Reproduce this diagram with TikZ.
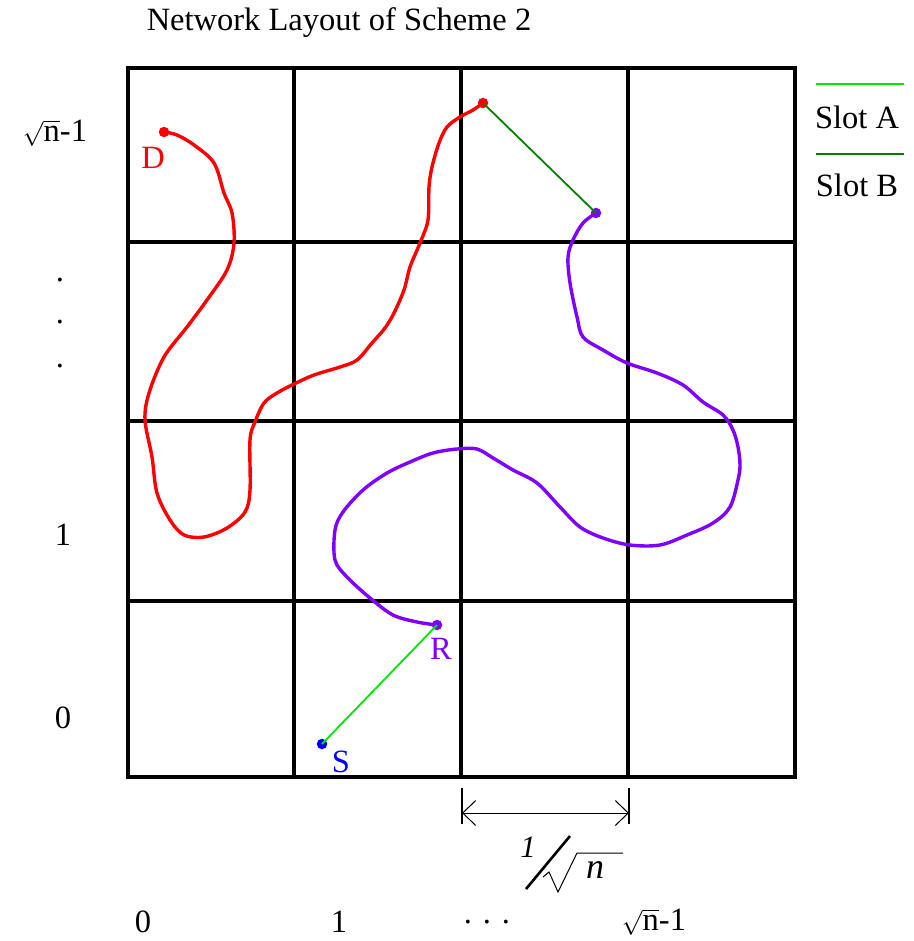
\documentclass[tikz,border=0pt]{standalone}
\usepackage{fontspec}
\setmainfont{Liberation Serif}
\usetikzlibrary{arrows.meta}
\definecolor{walkred}{RGB}{255,0,0}
\definecolor{walkviolet}{RGB}{128,0,255}
\definecolor{sblue}{RGB}{0,0,255}
\definecolor{slotAcol}{RGB}{0,230,0}
\definecolor{slotBcol}{RGB}{0,128,0}
\tikzset{
  gridline/.style={line width=4pt, black},
  lab/.style={font=\fontsize{32.5}{38}\selectfont, inner sep=0pt, anchor=center},
  dotn/.style={circle, inner sep=0pt, minimum size=10.5pt},
  walk/.style={line width=3.4pt, line join=round, line cap=round},
  slotA/.style={draw=slotAcol, line width=1.8pt},
  slotB/.style={draw=slotBcol, line width=1.8pt},
  dimbar/.style={line width=2pt, black},
  dimarrow/.style={line width=1pt, black, {Straight Barb[length=13pt,width=25pt]}-{Straight Barb[length=13pt,width=25pt]}},
}
\begin{document}
\begin{tikzpicture}[x=1pt, y=-1pt]
\useasboundingbox (0,0) rectangle (913,941);
\fill[white] (0,0) rectangle (913,941);
% title
\node[lab] (title) at (339,23) {Network Layout of Scheme 2};
% grid
\draw[gridline] (128,68) rectangle (795,777);
\draw[gridline] (294,68) -- (294,777);
\draw[gridline] (461,68) -- (461,777);
\draw[gridline] (628,68) -- (628,777);
\draw[gridline] (128,242) -- (795,242);
\draw[gridline] (128,421) -- (795,421);
\draw[gridline] (128,601) -- (795,601);
% red walk
\draw[walk, walkred] plot[smooth, tension=0.55] coordinates {
(164,132) (177,135) (194,145) (214,163) (224,193) (232,213) (234,243) (227,270)
(207,300) (187,327) (164,357) (149,393) (145,420) (152,457) (157,493) (170,520)
(184,535) (204,537) (227,528) (245,512) (250,490) (250,440) (255,422) (264,403)
(277,393) (294,384) (314,375) (340,367) (357,360) (372,343) (385,328) (394,313)
(404,290) (410,267) (420,243) (428,220) (429,187) (432,167) (439,143) (447,127)
(460,117) (473,110) (483,103)};
% violet walk
\draw[walk, walkviolet] plot[smooth, tension=0.55] coordinates {
(596,213) (583,223) (573,240) (568,257) (570,283) (577,317) (583,337) (603,350)
(627,363) (657,373) (683,385) (703,402) (723,415) (733,430) (738,447) (740,465)
(738,480) (730,507) (713,523) (687,535) (660,545) (630,545) (603,538) (580,527)
(560,507) (537,483) (513,470) (493,458) (477,449) (457,449) (433,453) (410,462)
(387,473) (363,490) (343,512) (335,530) (335,560) (347,577) (370,598) (393,615)
(417,622) (437,625)};
% dots
\node[dotn, fill=walkred] (D) at (164,132) {};
\node[dotn, fill=walkred] (T) at (483,103) {};
\node[dotn, fill=walkviolet] (V) at (596,213) {};
\node[dotn, fill=walkviolet] (R) at (437,625) {};
\node[dotn, fill=sblue] (S) at (322,744) {};
% slot links
\draw[slotB] (T.center) -- (V.center);
\draw[slotA] (S.center) -- (R.center);
% node labels
\node[lab, text=walkred] (Dl) at (153,158) {D};
\node[lab, text=walkviolet] (Rl) at (441,649) {R};
\node[lab, text=sblue] (Sl) at (341,762) {S};
% legend
\coordinate (la1) at (816,84);
\coordinate (la2) at (904,84);
\draw[slotA] (la1) -- (la2);
\node[lab] (slA) at (857,117) {Slot A};
\coordinate (lb1) at (816,154);
\coordinate (lb2) at (904,154);
\draw[slotB] (lb1) -- (lb2);
\node[lab] (slB) at (857,185) {Slot B};
% left axis labels
\node[lab] (ytop) at (55,133) {$\sqrt{\mathrm{n}}$-1};
\node[lab] (yd1) at (60,280) {.};
\node[lab] (yd2) at (60,322) {.};
\node[lab] (yd3) at (60,366) {.};
\node[lab] (y1) at (63,535) {1};
\node[lab] (y0) at (63,718) {0};
% bottom axis labels
\node[lab] (x0) at (143,922) {0};
\node[lab] (x1) at (339,922) {1};
\node[lab] (xd) at (487,922) {. . .};
\node[lab] (xtop) at (654,922) {$\sqrt{\mathrm{n}}$-1};
% cell width dimension
\draw[dimbar] (462,788) -- (462,824);
\draw[dimbar] (629,788) -- (629,824);
\coordinate (dl) at (462,813);
\coordinate (dr) at (629,813);
\draw[dimarrow] (dl) -- (dr);
\node[lab, font=\fontsize{31}{36}\selectfont\itshape] (one) at (528,847) {1};
\draw[line width=2.6pt] (526,889) -- (570,836);
\draw[line width=1pt, line join=miter] (543,877) -- (549,872) -- (558,892) -- (577,853) -- (623,853);
\node[lab, font=\fontsize{36}{40}\selectfont\itshape] (nn) at (595,870) {n};
\end{tikzpicture}
\end{document}
